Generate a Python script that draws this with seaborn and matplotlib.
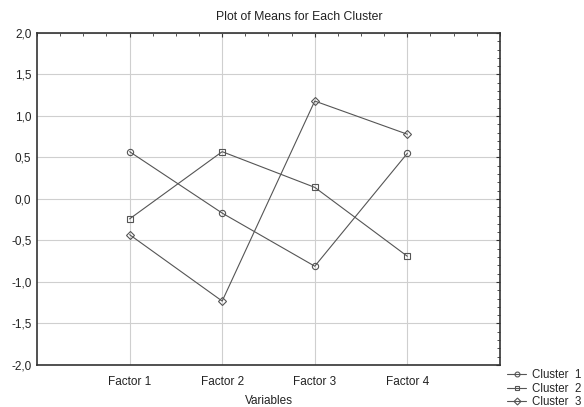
import matplotlib
matplotlib.use("Agg")
import matplotlib.pyplot as plt
import seaborn as sns
import pandas as pd
from matplotlib.ticker import MultipleLocator
from matplotlib.lines import Line2D

factors = ["Factor 1", "Factor 2", "Factor 3", "Factor 4"]
clusters = ["Cluster  1", "Cluster  2", "Cluster  3"]
cluster1 = [0.57, -0.17, -0.81, 0.55]
cluster2 = [-0.24, 0.57, 0.14, -0.69]
cluster3 = [-0.43, -1.23, 1.18, 0.78]
y_ticks = [-2.0, -1.5, -1.0, -0.5, 0.0, 0.5, 1.0, 1.5, 2.0]
y_ticklabels = ["-2,0", "-1,5", "-1,0", "-0,5", "0,0", "0,5", "1,0", "1,5", "2,0"]

rows = []
for name, vals in zip(clusters, [cluster1, cluster2, cluster3]):
    for i, v in enumerate(vals):
        rows.append({"pos": i, "mean": v, "Cluster": name})
df = pd.DataFrame(rows)

sns.set_style("white")
plt.rcParams["font.family"] = ["Liberation Sans", "DejaVu Sans"]
plt.rcParams["font.size"] = 8.5

fig = plt.figure(figsize=(5.84, 4.07), dpi=100)
ax = fig.add_axes([0.0634, 0.1032, 0.7926, 0.8158])

markers = {clusters[0]: "o", clusters[1]: "s", clusters[2]: "D"}
line_col = "#555555"

sns.lineplot(data=df, x="pos", y="mean", style="Cluster", markers=markers,
             dashes=False, color=line_col, linewidth=0.8, ax=ax, legend=False,
             markerfacecolor="none", markeredgecolor=line_col, markersize=4.5,
             markeredgewidth=0.8)

ax.set_xlim(-1, 4)
ax.set_ylim(-2, 2)
ax.set_xticks(range(len(factors)))
ax.set_xticklabels(factors)
ax.set_yticks(y_ticks)
ax.set_yticklabels(y_ticklabels)
ax.xaxis.set_minor_locator(MultipleLocator(0.25))
ax.yaxis.set_minor_locator(MultipleLocator(0.1))
ax.tick_params(which="both", direction="in", top=True, right=True,
               color="#333333", labelcolor="#222222")
ax.tick_params(which="major", length=3, width=0.8)
ax.tick_params(axis="x", which="major", pad=8)
ax.tick_params(axis="y", which="major", pad=4)
ax.tick_params(which="minor", length=2, width=0.6)
ax.grid(True, which="major", color="#cfcfcf", linewidth=0.8)
for s in ax.spines.values():
    s.set_color("#333333")
    s.set_linewidth(1.2)

ax.set_xlabel("Variables", labelpad=5, color="#222222")
ax.set_ylabel("")
ax.set_title("Plot of Means for Each Cluster", x=0.566, pad=9,
             color="#222222", fontsize=8.8)

handles = [Line2D([], [], color=line_col, linewidth=0.8, marker=markers[c],
                  markersize=3.5, markerfacecolor="none",
                  markeredgecolor=line_col, markeredgewidth=0.8)
           for c in clusters]
fig.legend(handles, clusters, loc="upper left", bbox_to_anchor=(0.858, 0.108),
           frameon=False, handlelength=1.7, handletextpad=0.45,
           labelspacing=0.15, borderpad=0, fontsize=8.3)

fig.savefig("out.png", dpi=100)
